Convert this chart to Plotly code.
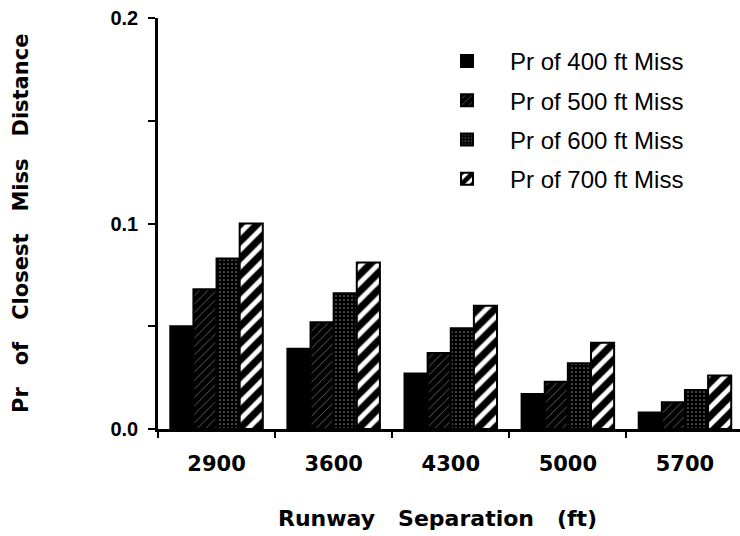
import plotly.graph_objects as go

categories = ["2900", "3600", "4300", "5000", "5700"]
series_names = ["Pr of 400 ft Miss", "Pr of 500 ft Miss", "Pr of 600 ft Miss", "Pr of 700 ft Miss"]
pr_400 = [0.050, 0.039, 0.027, 0.017, 0.008]
pr_500 = [0.068, 0.052, 0.037, 0.023, 0.013]
pr_600 = [0.083, 0.066, 0.049, 0.032, 0.019]
pr_700 = [0.100, 0.081, 0.060, 0.042, 0.026]
y_ticks = [0.0, 0.1, 0.2]
y_tick_text = ["0.0", "0.1", "0.2"]

FONT = "Liberation Sans"
BOLD_FONT = "DejaVu Sans"

patterns = [
    dict(shape="", bgcolor="black", fgcolor="black"),
    dict(shape="/", bgcolor="black", fgcolor="white", size=6, solidity=0.12),
    dict(shape=".", bgcolor="black", fgcolor="white", size=4, solidity=0.15),
    dict(shape="/", bgcolor="white", fgcolor="black", fgopacity=1, size=12, solidity=0.6),
]
colors = ["black", "black", "black", "white"]

fig = go.Figure()
for i, (name, vals) in enumerate(zip(series_names, [pr_400, pr_500, pr_600, pr_700])):
    fig.add_trace(go.Bar(
        x=categories, y=vals, name=name,
        legendgroup=name,
        marker=dict(color=colors[i], pattern=patterns[i],
                    line=dict(color="black", width=2)),
    ))

nb = "\u00a0"
ytitle = (" " + nb * 2).join(["Pr", "of", "Closest", "Miss", "Distance"])
xtitle = (" " + nb * 2).join(["Runway", "Separation", "(ft)"])

fig.update_layout(
    width=740, height=536,
    margin=dict(l=158, r=0, t=18, b=107),
    paper_bgcolor="white", plot_bgcolor="white",
    barmode="group", bargap=0.21, bargroupgap=0,
    font=dict(family=FONT, color="black"),
    showlegend=True,
    legend=dict(x=(424 - 158) / 582, y=1 - (39 - 18) / 411, xanchor="left", yanchor="top",
                font=dict(family=FONT, size=24, color="black"),
                tracegroupgap=5, itemwidth=76, bgcolor="rgba(0,0,0,0)"),
    xaxis=dict(type="category", range=[-0.5, 4.47], tickson="boundaries",
               ticks="outside", ticklen=6, tickwidth=2, tickcolor="black",
               showline=True, linewidth=2.5, linecolor="black",
               showgrid=False, zeroline=False,
               tickfont=dict(family=BOLD_FONT, size=21, color="black", weight="bold"),
               ticklabelstandoff=14),
    yaxis=dict(range=[0, 0.2], tickvals=y_ticks, ticktext=y_tick_text,
               ticks="outside", ticklen=7, tickwidth=2, tickcolor="black",
               minor=dict(tickvals=[0.05, 0.15], ticks="outside", ticklen=7, tickwidth=2, tickcolor="black"),
               showline=True, linewidth=2.5, linecolor="black",
               showgrid=False, zeroline=False,
               tickfont=dict(family=FONT, size=20, color="black", weight="bold"),
               ticklabelstandoff=6),
    annotations=[
        dict(text="<b>" + ytitle + "</b>", xref="paper", yref="paper",
             x=(21 - 158) / 582, y=(429 - 224) / 411, xanchor="center", yanchor="middle",
             textangle=-90, showarrow=False,
             font=dict(family=BOLD_FONT, size=21, color="black")),
        dict(text="<b>" + xtitle + "</b>", xref="paper", yref="paper",
             x=(437 - 158) / 582, y=(429 - 518) / 411, xanchor="center", yanchor="middle",
             showarrow=False,
             font=dict(family=BOLD_FONT, size=22, color="black")),
    ],
)

fig.write_html("out.html", config={"displayModeBar": False},
               post_script="document.body.style.margin='0px';document.body.style.padding='0px';")
